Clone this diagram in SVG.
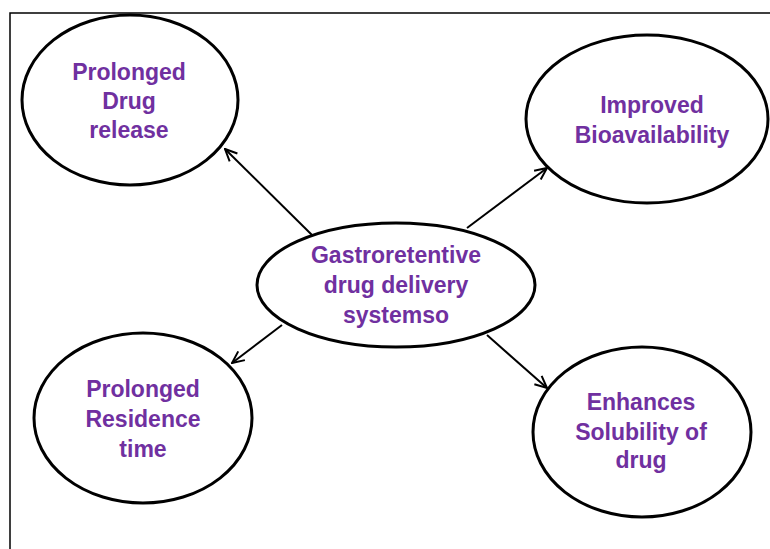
<svg xmlns="http://www.w3.org/2000/svg" width="770" height="549" viewBox="0 0 770 549">
<defs>
<style>
.node ellipse{fill:#fff;stroke:#000;stroke-width:3}
.node text{font-family:"Liberation Sans",Arial,sans-serif;font-weight:bold;font-size:23px;fill:#7030A0;text-anchor:middle}
.conn line{stroke:#000;stroke-width:2;fill:none}
</style>
<marker id="arr" viewBox="0 0 14 14" refX="13" refY="7" markerWidth="14" markerHeight="14" markerUnits="userSpaceOnUse" orient="auto">
<path d="M1,1.5 L13,7 L1,12.5" fill="none" stroke="#000" stroke-width="2"/>
</marker>
</defs>
<rect width="770" height="549" fill="#fff"/>
<path d="M10,549 V13 H770" fill="none" stroke="#000" stroke-width="1.5"/>
<g class="conn" id="connectors">
<line x1="312" y1="235" x2="225" y2="149" marker-end="url(#arr)"/>
<line x1="467" y1="228" x2="547" y2="168" marker-end="url(#arr)"/>
<line x1="282" y1="325" x2="232" y2="363" marker-end="url(#arr)"/>
<line x1="487" y1="335" x2="547" y2="388" marker-end="url(#arr)"/>
</g>
<g class="node" id="center">
<ellipse cx="396" cy="285" rx="139" ry="62"/>
<text x="396" y="263">Gastroretentive</text>
<text x="396" y="293">drug delivery</text>
<text x="396" y="323">systemso</text>
</g>
<g class="node" id="prolonged-release">
<ellipse cx="130" cy="100" rx="108" ry="85"/>
<text x="129" y="80">Prolonged</text>
<text x="129" y="109">Drug</text>
<text x="129" y="138">release</text>
</g>
<g class="node" id="bioavailability">
<ellipse cx="647" cy="119" rx="121" ry="84"/>
<text x="652" y="113">Improved</text>
<text x="652" y="143">Bioavailability</text>
</g>
<g class="node" id="residence-time">
<ellipse cx="143" cy="418" rx="109" ry="85"/>
<text x="143" y="397">Prolonged</text>
<text x="143" y="427">Residence</text>
<text x="143" y="457">time</text>
</g>
<g class="node" id="solubility">
<ellipse cx="642" cy="432" rx="109" ry="85"/>
<text x="641" y="410">Enhances</text>
<text x="641" y="440">Solubility of</text>
<text x="641" y="468">drug</text>
</g>
</svg>
